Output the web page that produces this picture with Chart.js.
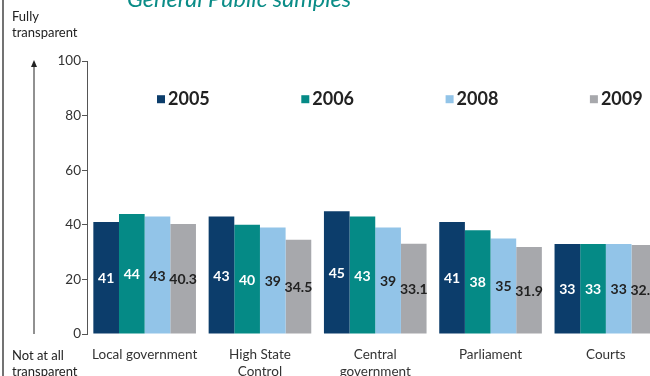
<!DOCTYPE html>
<html>
<head>
<meta charset="utf-8">
<script src="https://cdn.jsdelivr.net/npm/chart.js@4.4.1/dist/chart.umd.min.js"></script>
<style>
  html, body { margin: 0; padding: 0; width: 650px; height: 376px; overflow: hidden; background: #fff; }
  #wrap { position: absolute; left: 0; top: 0; width: 670px; height: 376px; }
  .note { position: absolute; font-family: Lato, sans-serif; font-size: 13px; color: #222; line-height: 16px; }
  #title { position: absolute; left: 127px; top: -16px; font-family: Lato, sans-serif; font-style: italic;
           font-size: 23.5px; color: #0a8c87; white-space: nowrap; }
</style>
</head>
<body>
<div id="wrap"><canvas id="myChart" width="670" height="376"></canvas></div>
<div id="title">General Public samples</div>
<div class="note" style="left:12px; top:8px;">Fully<br>transparent</div>
<div class="note" style="left:12px; top:347px;">Not at all<br>transparent</div>
<script>
const categories = ['Local government', ['High State', 'Control'], ['Central', 'government'], 'Parliament', 'Courts'];
const years = ['2005', '2006', '2008', '2009'];
const values2005 = [41, 43, 45, 41, 33];
const values2006 = [44, 40, 43, 38, 33];
const values2008 = [43, 39, 39, 35, 33];
const values2009 = [40.3, 34.5, 33.1, 31.9, 32.6];
const yTicks = [0, 20, 40, 60, 80, 100];

const colors = ['#0c3d6b', '#058a86', '#92c4e8', '#a7a8ac'];
const labelColors = ['#ffffff', '#ffffff', '#222222', '#222222'];

// value labels in the middle of each bar
const barLabels = {
    id: 'barLabels',
    afterDatasetsDraw(chart) {
        const ctx = chart.ctx;
        ctx.save();
        ctx.font = 'bold 14px Lato, sans-serif';
        ctx.textAlign = 'center';
        ctx.textBaseline = 'middle';
        chart.data.datasets.forEach((ds, i) => {
            const meta = chart.getDatasetMeta(i);
            meta.data.forEach((bar, j) => {
                ctx.fillStyle = labelColors[i];
                ctx.fillText(String(ds.data[j]), bar.x, (bar.y + bar.base) / 2 + 1);
            });
        });
        ctx.restore();
    }
};

// legend row inside the plot, frame line and the up arrow on the left
const decorations = {
    id: 'decorations',
    afterDraw(chart) {
        const ctx = chart.ctx;
        const area = chart.chartArea;
        const y = chart.scales.y;
        ctx.save();
        ctx.font = 'bold 18px Lato, sans-serif';
        ctx.textBaseline = 'middle';
        chart.data.datasets.forEach((ds, i) => {
            const x = area.left + 70 + i * 144.3;
            const cy = y.getPixelForValue(86);
            ctx.fillStyle = ds.backgroundColor;
            ctx.fillRect(x, cy - 4, 8, 8);
            ctx.fillStyle = '#222';
            ctx.fillText(ds.label, x + 11, cy);
        });

        ctx.strokeStyle = '#444';
        ctx.lineWidth = 1.5;
        ctx.beginPath();
        ctx.moveTo(3, 0);
        ctx.lineTo(3, chart.height);
        ctx.stroke();

        const top = y.getPixelForValue(100);
        const bottom = y.getPixelForValue(0);
        ctx.strokeStyle = '#222';
        ctx.lineWidth = 1;
        ctx.beginPath();
        ctx.moveTo(34, bottom);
        ctx.lineTo(34, top + 4);
        ctx.stroke();
        ctx.fillStyle = '#222';
        ctx.beginPath();
        ctx.moveTo(34, top - 1);
        ctx.lineTo(31, top + 6);
        ctx.lineTo(37, top + 6);
        ctx.closePath();
        ctx.fill();
        ctx.restore();
    }
};

const datasets = [values2005, values2006, values2008, values2009].map((vals, i) => ({
    label: years[i],
    data: vals,
    backgroundColor: colors[i],
    borderWidth: 0,
    barPercentage: 1,
    categoryPercentage: 0.89
}));

const ctx = document.getElementById('myChart').getContext('2d');
const myChart = new Chart(ctx, {
    type: 'bar',
    data: { labels: categories, datasets: datasets },
    options: {
        responsive: false,
        animation: false,
        layout: { padding: { left: 0, top: 61, right: 6.5, bottom: 0 } },
        plugins: {
            legend: { display: false },
            tooltip: { enabled: false }
        },
        scales: {
            x: {
                grid: { display: false },
                border: { display: false },
                ticks: {
                    color: '#333',
                    font: { family: 'Lato, sans-serif', size: 13.5 },
                    padding: 5,
                    maxRotation: 0,
                    autoSkip: false
                },
                afterFit(scale) { scale.height = 42; }
            },
            y: {
                min: 0,
                max: 100,
                afterBuildTicks(scale) { scale.ticks = yTicks.map(v => ({ value: v })); },
                grid: { drawOnChartArea: false, tickLength: 5, tickColor: '#555' },
                border: { color: '#555', width: 1 },
                ticks: {
                    color: '#333',
                    font: { family: 'Lato, sans-serif', size: 13.5 },
                    padding: 1
                },
                afterFit(scale) { scale.width = 87; }
            }
        }
    },
    plugins: [barLabels, decorations]
});
</script>
</body>
</html>
